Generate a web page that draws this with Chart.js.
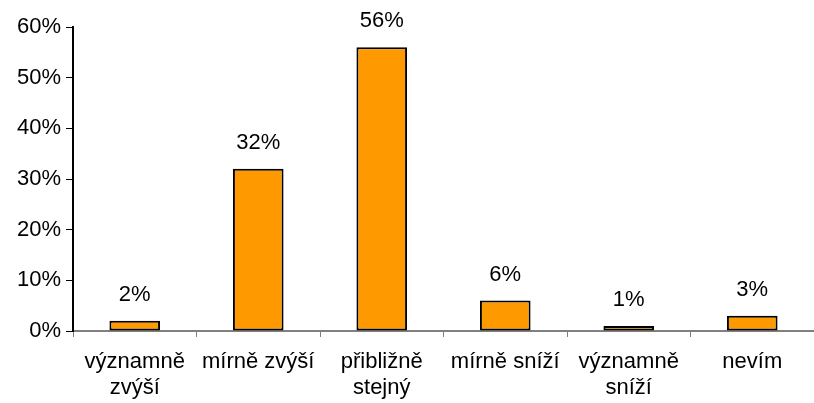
<!DOCTYPE html>
<html>
<head>
<meta charset="utf-8">
<script src="https://cdn.jsdelivr.net/npm/chart.js@4"></script>
<style>
  html, body { margin: 0; padding: 0; background: #fff; }
  #wrap { width: 814px; height: 403px; }
</style>
</head>
<body>
<div id="wrap"><canvas id="barChart" width="814" height="403"></canvas></div>
<script>
const categories = [
    ['významně', 'zvýší'],
    'mírně zvýší',
    ['přibližně', 'stejný'],
    'mírně sníží',
    ['významně', 'sníží'],
    'nevím'
];
const values = [2, 32, 56, 6, 1, 3];
const yTicks = [0, 10, 20, 30, 40, 50, 60];

const FONT = 'Liberation Sans, Arial, sans-serif';
const FONT_SIZE = 22;

// labels above bars
const valueLabels = {
    id: 'valueLabels',
    afterDatasetsDraw(chart) {
        const c = chart.ctx;
        const meta = chart.getDatasetMeta(0);
        c.save();
        c.font = FONT_SIZE + 'px ' + FONT;
        c.fillStyle = '#000';
        c.textAlign = 'center';
        c.textBaseline = 'middle';
        meta.data.forEach((bar, i) => {
            c.fillText(values[i] + '%', bar.x, bar.y - 26);
        });
        c.restore();
    }
};

const ctx = document.getElementById('barChart').getContext('2d');

new Chart(ctx, {
    type: 'bar',
    data: {
        labels: categories,
        datasets: [{
            data: values,
            backgroundColor: '#FF9900',
            borderColor: '#000',
            borderWidth: 2,
            borderSkipped: false,
            barPercentage: 0.41,
            categoryPercentage: 1
        }]
    },
    options: {
        responsive: false,
        animation: false,
        layout: { padding: { top: 27, right: 0, left: 0, bottom: 0 } },
        plugins: {
            legend: { display: false },
            tooltip: { enabled: false }
        },
        scales: {
            x: {
                offset: true,
                grid: {
                    offset: true,
                    drawOnChartArea: false,
                    drawTicks: true,
                    tickLength: 6,
                    color: '#808080'
                },
                border: { color: '#808080', width: 2 },
                ticks: {
                    color: '#000',
                    font: { family: FONT, size: FONT_SIZE, lineHeight: 1.18 },
                    maxRotation: 0,
                    autoSkip: false,
                    padding: 12
                },
                afterFit(scale) { scale.height = 72; }
            },
            y: {
                min: 0,
                max: 60,
                afterBuildTicks(scale) {
                    scale.ticks = yTicks.map(v => ({ value: v }));
                },
                grid: {
                    drawOnChartArea: false,
                    drawTicks: true,
                    tickLength: 7,
                    color: '#000'
                },
                border: { color: '#000', width: 2 },
                ticks: {
                    color: '#000',
                    font: { family: FONT, size: FONT_SIZE },
                    padding: 5,
                    callback: v => v + '%'
                },
                afterFit(scale) { scale.width = 73; }
            }
        }
    },
    plugins: [valueLabels]
});
</script>
</body>
</html>
